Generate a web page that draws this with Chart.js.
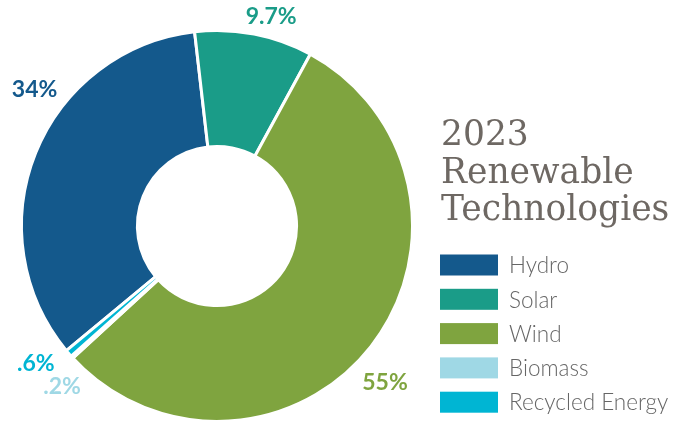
<!DOCTYPE html>
<html>
<head>
<meta charset="utf-8">
<script src="https://cdn.jsdelivr.net/npm/chart.js@4"></script>
<style>
  html, body { margin: 0; padding: 0; background: #fff; }
  #wrap { width: 689px; height: 423px; }
</style>
</head>
<body>
<div id="wrap"><canvas id="renewableChart"></canvas></div>
<script>
const titleLines = ['2023', 'Renewable', 'Technologies']
const technologies = ['Hydro', 'Solar', 'Wind', 'Biomass', 'Recycled Energy']
const shares = [34, 9.7, 55, 0.2, 0.6]
const shareLabels = ['34%', '9.7%', '55%', '.2%', '.6%']
const techColors = ['#14598c', '#1a9c88', '#7fa43f', '#9fd8e5', '#00b5d3']

// where each % label sits, relative to the middle of its slice's outer edge
const labelNudge = [[-1, -63], [17, -17], [14, 36], [-10, 29], [-33, 10]]

const sideLegend = {
  id: 'sideLegend',
  afterDraw(chart) {
    const ctx = chart.ctx
    const arcs = chart.getDatasetMeta(0).data

    // percentage labels outside the ring
    ctx.save()
    ctx.font = 'bold 23px Lato, "Open Sans", sans-serif'
    ctx.textAlign = 'center'
    ctx.textBaseline = 'middle'
    arcs.forEach((arc, i) => {
      const mid = (arc.startAngle + arc.endAngle) / 2
      const x = arc.x + Math.cos(mid) * arc.outerRadius + labelNudge[i][0]
      const y = arc.y + Math.sin(mid) * arc.outerRadius + labelNudge[i][1]
      ctx.fillStyle = techColors[i]
      ctx.fillText(shareLabels[i], x, y)
    })
    ctx.restore()

    // title
    ctx.save()
    ctx.fillStyle = '#6e6863'
    ctx.font = '34.5px "DejaVu Serif", serif'
    ctx.textBaseline = 'alphabetic'
    titleLines.forEach((line, i) => ctx.fillText(line, 441, 145 + i * 37.5))
    ctx.restore()

    // legend
    ctx.save()
    ctx.font = '300 22.5px Lato, "Open Sans", sans-serif'
    ctx.textBaseline = 'middle'
    technologies.forEach((name, i) => {
      const y = 265 + i * 34.3
      ctx.fillStyle = techColors[i]
      ctx.fillRect(440, y - 10.5, 58, 21)
      ctx.fillStyle = '#666666'
      ctx.fillText(name, 509, y + 1)
    })
    ctx.restore()
  }
}

new Chart(document.getElementById('renewableChart'), {
  type: 'doughnut',
  data: {
    labels: technologies,
    datasets: [{
      data: shares,
      backgroundColor: techColors,
      borderColor: '#ffffff',
      borderWidth: 3
    }]
  },
  options: {
    responsive: true,
    maintainAspectRatio: false,
    animation: false,
    cutout: '40.7%',
    rotation: -129.6,
    layout: {
      padding: { left: 20, right: 275, top: 29, bottom: 0 }
    },
    plugins: {
      legend: { display: false },
      tooltip: { enabled: false }
    }
  },
  plugins: [sideLegend]
})
</script>
</body>
</html>
